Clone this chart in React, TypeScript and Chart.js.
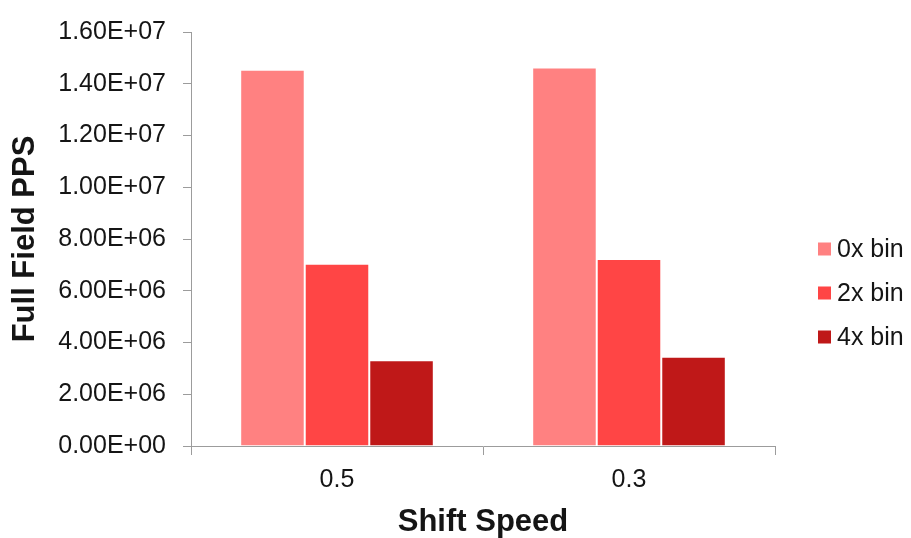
import { useEffect, useRef } from "react";
import { Chart, registerables } from "chart.js";

Chart.register(...registerables);

// Shift speed categories and full-field PPS per binning mode
const categories = ["0.5", "0.3"];
const seriesNames = ["0x bin", "2x bin", "4x bin"];
const bin0x = [14540000, 14630000];
const bin2x = [7040000, 7230000];
const bin4x = [3310000, 3450000];
const seriesColors = ["#FF8181", "#FF4545", "#BF1818"];

const yMin = 0;
const yMax = 16000000;
const yStep = 2000000;

const FONT = "'Liberation Sans', Arial, sans-serif";
const AXIS_GRAY = "#9c9c9c";
const TEXT = "#151515";

// Excel-style scientific notation: 1.60E+07
function sci(v: number): string {
  const [mant, exp] = v.toExponential(2).split("e");
  const sign = exp.startsWith("-") ? "-" : "+";
  const digits = exp.replace(/[+-]/, "").padStart(2, "0");
  return `${mant}E${sign}${digits}`;
}

// Legend drawn to the right of the plot area
const sideLegend = {
  id: "sideLegend",
  afterDraw(chart: any) {
    const opts = chart.options.plugins.sideLegend;
    if (!opts) return;
    const { ctx, chartArea } = chart;
    const datasets = chart.data.datasets;
    const n = datasets.length;
    const x = chartArea.right + opts.offsetX;
    const centerY = chartArea.top + opts.offsetY;
    ctx.save();
    ctx.font = `${opts.fontSize}px ${FONT}`;
    ctx.textBaseline = "middle";
    ctx.textAlign = "left";
    datasets.forEach((ds: any, i: number) => {
      const cy = centerY + (i - (n - 1) / 2) * opts.spacing;
      ctx.fillStyle = ds.backgroundColor;
      ctx.fillRect(x, cy - opts.box / 2, opts.box, opts.box);
      ctx.fillStyle = TEXT;
      ctx.fillText(ds.label, x + opts.box + opts.gap, cy + 1);
    });
    ctx.restore();
  },
};

export default function App() {
  const canvasRef = useRef<HTMLCanvasElement | null>(null);

  useEffect(() => {
    const canvas = canvasRef.current;
    if (!canvas) return;
    const values = [bin0x, bin2x, bin4x];
    const chart = new Chart(canvas, {
      type: "bar",
      data: {
        labels: categories,
        datasets: seriesNames.map((name, i) => ({
          label: name,
          data: values[i],
          backgroundColor: seriesColors[i],
          borderColor: "rgba(255,255,255,0.18)",
          borderWidth: 1,
          categoryPercentage: 0.663,
          barPercentage: 1.0,
        })),
      },
      options: {
        animation: false,
        responsive: false,
        devicePixelRatio: 1,
        layout: { padding: { top: 22, right: 136, bottom: 0, left: 0 } },
        plugins: {
          legend: { display: false },
          tooltip: { enabled: false },
          sideLegend: {
            offsetX: 43,
            offsetY: 261,
            spacing: 44,
            box: 13,
            gap: 6,
            fontSize: 25,
          },
        } as any,
        scales: {
          x: {
            grid: {
              display: true,
              drawOnChartArea: false,
              drawTicks: true,
              tickLength: 9,
              color: AXIS_GRAY,
              offset: true,
            },
            border: { display: true, color: AXIS_GRAY, width: 1 },
            ticks: {
              font: { family: FONT, size: 25 },
              color: TEXT,
              padding: 10,
            },
            title: {
              display: true,
              text: "Shift Speed",
              color: TEXT,
              font: { family: FONT, size: 31, weight: "bold", lineHeight: 1 },
              padding: 0,
            },
            afterFit: (s: any) => {
              s.height = 92;
            },
          },
          y: {
            min: yMin,
            max: yMax,
            grid: {
              display: true,
              drawOnChartArea: false,
              drawTicks: true,
              tickLength: 8,
              color: AXIS_GRAY,
            },
            border: { display: true, color: AXIS_GRAY, width: 1 },
            ticks: {
              stepSize: yStep,
              font: { family: FONT, size: 25 },
              color: TEXT,
              padding: 17,
              callback: (v: any) => sci(Number(v)),
            },
            title: {
              display: true,
              text: "Full Field PPS",
              color: TEXT,
              font: { family: FONT, size: 31, weight: "bold" },
              padding: 7,
            },
            afterFit: (s: any) => {
              s.width = 191;
            },
          },
        },
      },
      plugins: [sideLegend],
    });
    return () => chart.destroy();
  }, []);

  return (
    <div
      style={{
        position: "fixed",
        left: 0,
        top: 0,
        width: 911,
        height: 538,
        background: "#ffffff",
      }}
    >
      <canvas ref={canvasRef} width={911} height={538} />
    </div>
  );
}
